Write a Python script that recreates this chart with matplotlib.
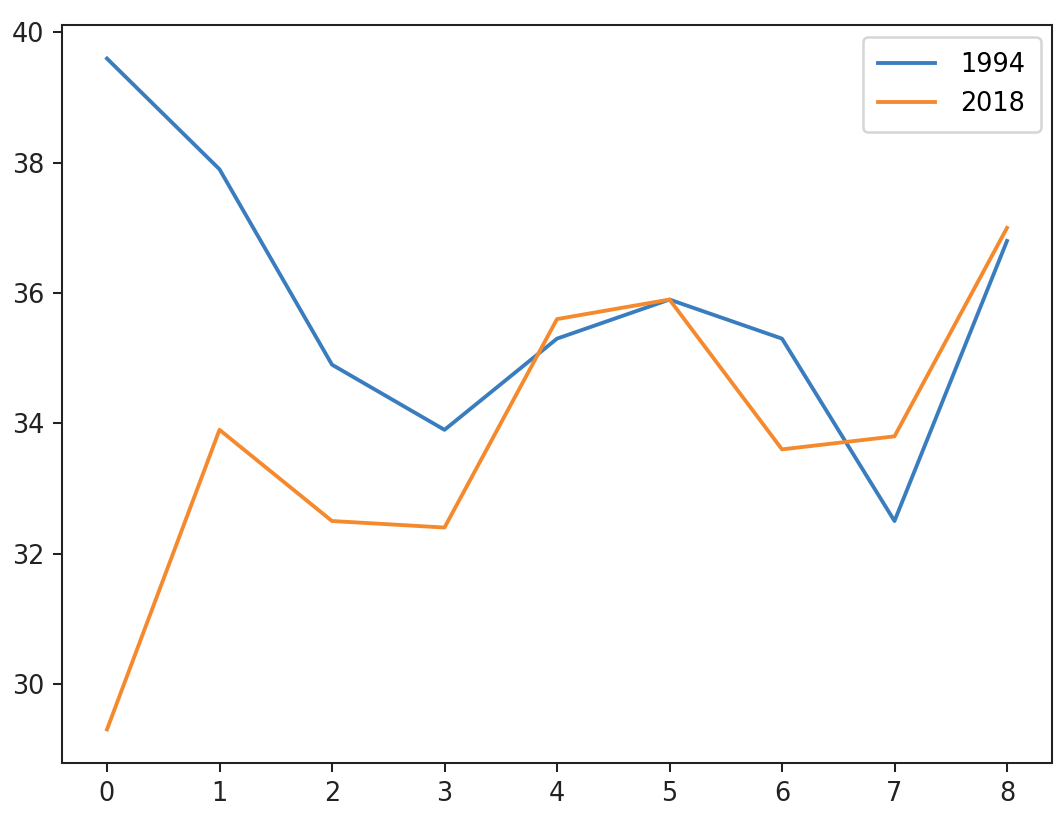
import matplotlib
matplotlib.use("Agg")
import matplotlib.pyplot as plt

x = [0, 1, 2, 3, 4, 5, 6, 7, 8]
y1994 = [39.6, 37.9, 34.9, 33.9, 35.3, 35.9, 35.3, 32.5, 36.8]
y2018 = [29.3, 33.9, 32.5, 32.4, 35.6, 35.9, 33.6, 33.8, 37.0]
labels = ["1994", "2018"]

DPI = 184
W, H = 1064, 840
fig = plt.figure(figsize=(W/DPI, H/DPI), dpi=DPI)
ax = fig.add_axes([62/W, 1-763/H, (1052-62)/W, (763-25)/H])
ax.plot(x, y1994, label=labels[0], color="#3a7dbf")
ax.plot(x, y2018, label=labels[1], color="#f5892e")
ax.legend(loc="upper right", borderpad=0.6, handlelength=2.2,
          handletextpad=1.0, borderaxespad=0.45)
for s in ax.spines.values():
    s.set_color("#222222")
ax.tick_params(colors="#222222")
fig.savefig("out.png", dpi=DPI)
